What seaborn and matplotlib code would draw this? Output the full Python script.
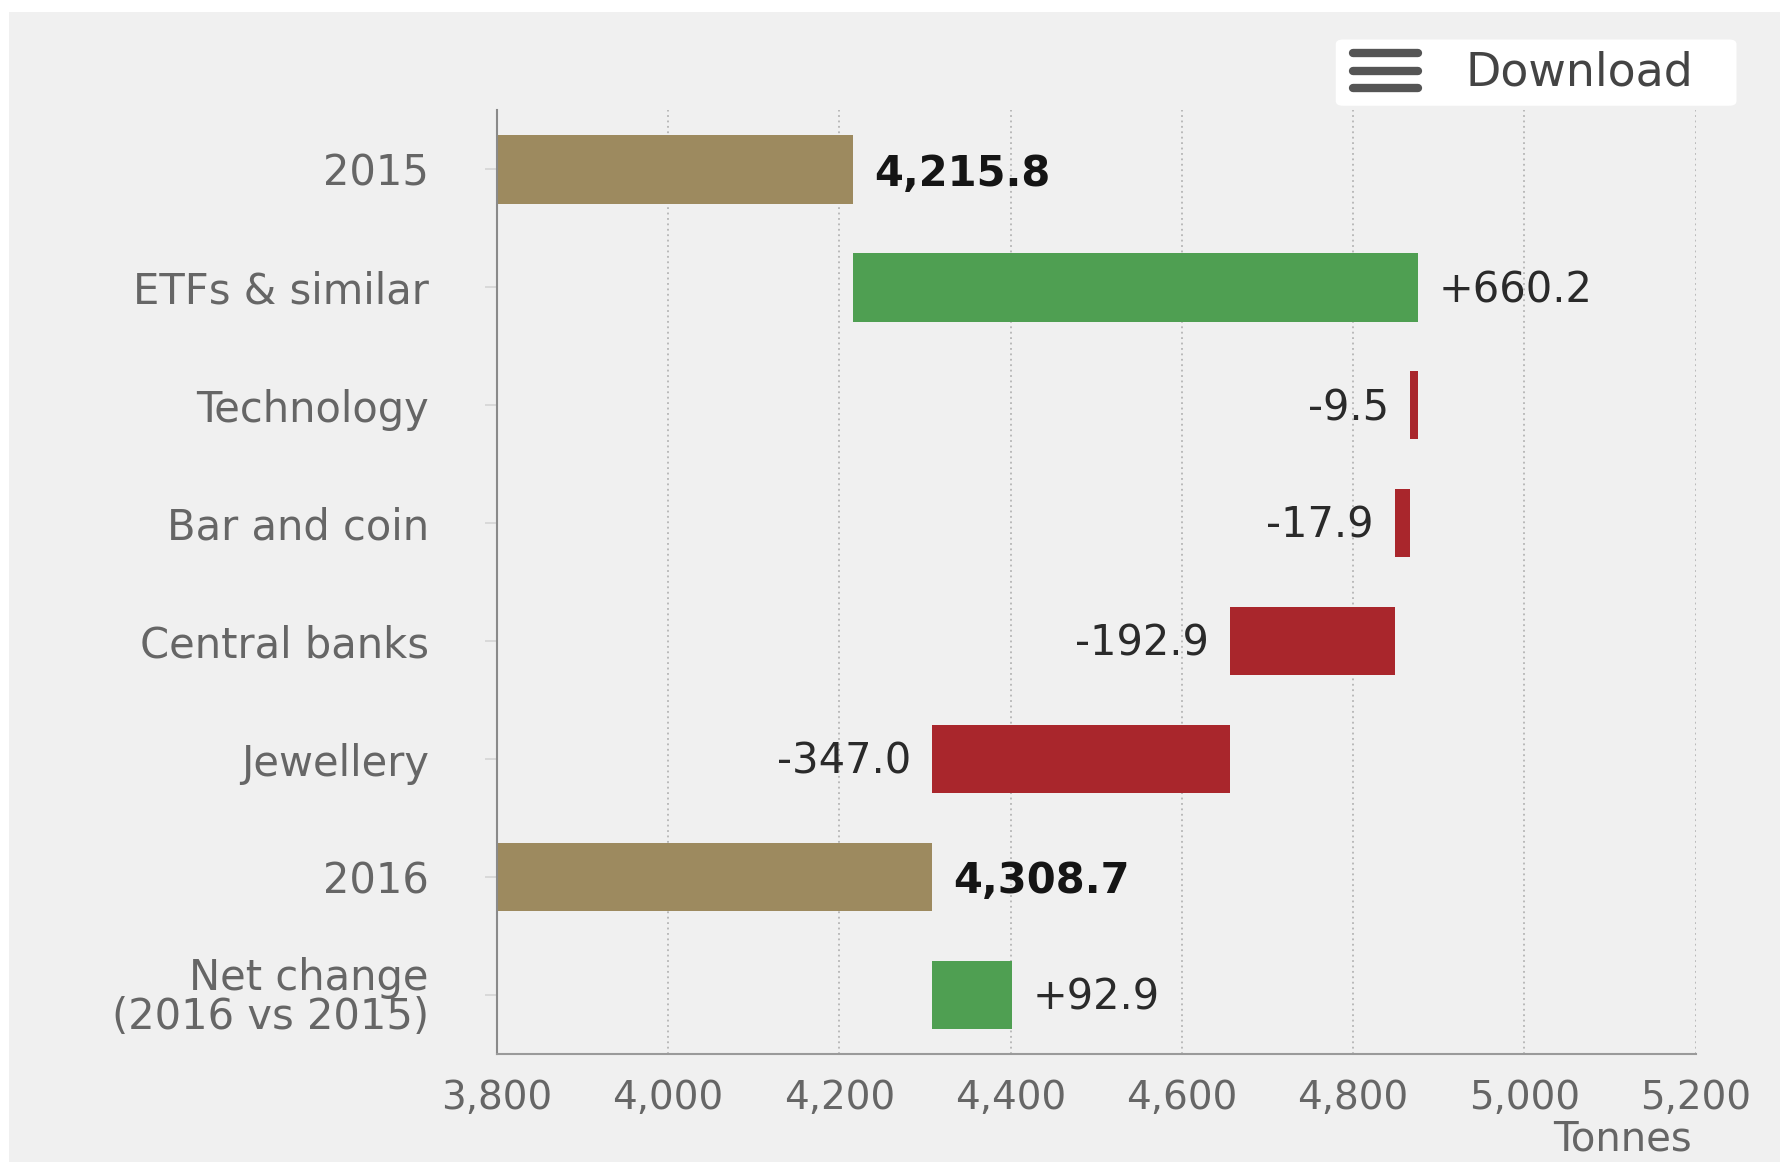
import numpy as np
import pandas as pd
import matplotlib
matplotlib.use('Agg')
import matplotlib.pyplot as plt
import seaborn as sns
from matplotlib.patches import Rectangle, FancyBboxPatch
from matplotlib.lines import Line2D
from matplotlib.ticker import FuncFormatter

# data (tonnes)
categories = ["2015", "ETFs & similar", "Technology", "Bar and coin",
              "Central banks", "Jewellery", "2016", "Net change\n(2016 vs 2015)"]
values = [4215.8, 660.2, -9.5, -17.9, -192.9, -347.0, 4308.7, 92.9]
kinds = ["total", "change", "change", "change", "change", "change", "total", "change"]
x_ticks = [3800, 4000, 4200, 4400, 4600, 4800, 5000, 5200]

GOLD = '#9d8a5f'
GREEN = '#4f9f52'
RED = '#a9262c'

# waterfall: where every bar starts and how long it is
starts = []
lengths = []
running = 0
for v, k in zip(values, kinds):
    if k == "total":
        starts.append(0)
        lengths.append(v)
        running = v
    else:
        starts.append(running if v >= 0 else running + v)
        lengths.append(abs(v))
        running += v

df = pd.DataFrame({"category": categories, "length": lengths, "start": starts, "kind": kinds, "value": values})
colors = {}
for c, v, k in zip(categories, values, kinds):
    colors[c] = GOLD if k == "total" else (GREEN if v >= 0 else RED)

sns.set_theme(style="white")
plt.rcParams['font.family'] = ['DejaVu Sans']

fig = plt.figure(figsize=(17.81, 11.62), dpi=100, facecolor='white')
fig.add_artist(Rectangle((0.005, 0), 0.995, 0.99, transform=fig.transFigure,
                         facecolor='#f0f0f0', edgecolor='none', zorder=-10))
ax = fig.add_axes([0.279, 0.093, 0.673, 0.812])
ax.set_facecolor('#f0f0f0')

sns.barplot(data=df, x="length", y="category", hue="category", palette=colors,
            orient="h", width=0.58, saturation=1, legend=False, linewidth=0, ax=ax)
# shift each bar to its waterfall start
for patch, s in zip(ax.patches, starts):
    patch.set_x(s)

# value labels
for i, row in df.iterrows():
    if row["kind"] == "total":
        ax.annotate(f"{row['value']:,.1f}", (row["start"] + row["length"], i),
                    xytext=(15, -3), textcoords='offset points', ha='left', va='center',
                    fontsize=30, fontweight='bold', color='#151515')
    elif row["value"] >= 0:
        ax.annotate(f"+{row['value']:.1f}", (row["start"] + row["length"], i),
                    xytext=(15, -2), textcoords='offset points', ha='left', va='center',
                    fontsize=30, color='#2a2a2a')
    else:
        ax.annotate(f"{row['value']:.1f}", (row["start"], i),
                    xytext=(-15, -2), textcoords='offset points', ha='right', va='center',
                    fontsize=30, color='#2a2a2a')

ax.set_xlim(3800, 5200)
ax.set_ylim(7.5, -0.5)
ax.set_xticks(x_ticks)
ax.xaxis.set_major_formatter(FuncFormatter(lambda x, p: f"{x:,.0f}"))
ax.set_xlabel("")
ax.set_ylabel("")

ax.grid(axis='x', linestyle=(0, (1, 2)), color='#b5b5b5', linewidth=1.3)
ax.grid(axis='y', visible=False)
ax.set_axisbelow(True)
for sp in ['top', 'right']:
    ax.spines[sp].set_visible(False)
ax.spines['left'].set_color('#8a8a8a')
ax.spines['left'].set_linewidth(1.5)
ax.spines['bottom'].set_color('#9a9a9a')
ax.spines['bottom'].set_linewidth(1.5)

ax.tick_params(axis='y', left=True, length=9, width=1.2, color='#d5d5d5', pad=40,
               labelsize=30, labelcolor='#666666')
ax.tick_params(axis='x', bottom=False, length=0, pad=18, labelsize=28, labelcolor='#666666')
for lab in ax.get_yticklabels():
    lab.set_linespacing(0.9)

fig.text(0.950, 0.010, "Tonnes", ha='right', va='baseline', fontsize=29, color='#666666')

# download button
fig.add_artist(FancyBboxPatch((0.750, 0.909), 0.225, 0.057,
                              boxstyle='round,pad=0,rounding_size=0.004',
                              transform=fig.transFigure, facecolor='white', edgecolor='none'))
for y in [53, 71, 88]:
    fig.add_artist(Line2D([1353 / 1781, 1418 / 1781], [1 - y / 1162] * 2, transform=fig.transFigure,
                          linewidth=6, color='#555555', solid_capstyle='round'))
fig.text(0.823, 0.937, "Download", ha='left', va='center', fontsize=33, color='#444444')

fig.savefig('out.png', dpi=100)
